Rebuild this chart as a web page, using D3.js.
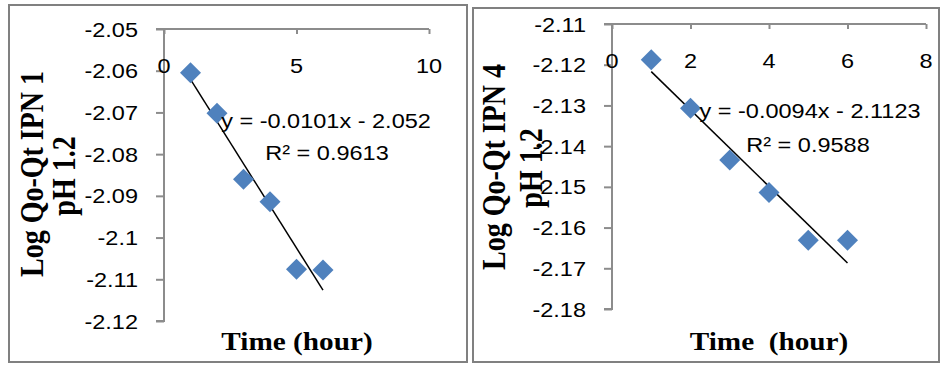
<!DOCTYPE html>
<html>
<head>
<meta charset="utf-8">
<script src="https://cdn.jsdelivr.net/npm/d3@7"></script>
<style>
  html, body { margin: 0; padding: 0; background: #fff; }
  svg { display: block; }
  .pre { white-space: pre; }
</style>
</head>
<body>
<svg id="chart" width="941" height="365"></svg>
<script>
// ---------- data ----------
const timeHours = [1, 2, 3, 4, 5, 6];

const ipn1Values = [-2.0605, -2.0702, -2.0860, -2.0914, -2.1076, -2.1078];
const ipn1Slope = -0.0101;
const ipn1Intercept = -2.052;
const ipn1Equation = "y = -0.0101x - 2.052";
const ipn1R2 = "R² = 0.9613";
const ipn1XTicks = [0, 5, 10];
const ipn1YTicks = [-2.05, -2.06, -2.07, -2.08, -2.09, -2.1, -2.11, -2.12];
const ipn1YTickLabels = ["-2.05", "-2.06", "-2.07", "-2.08", "-2.09", "-2.1", "-2.11", "-2.12"];
const ipn1YTitle = ["Log Qo-Qt IPN 1", "pH 1.2"];
const ipn1XTitle = "Time (hour)";

const ipn4Values = [-2.1188, -2.1307, -2.1434, -2.1514, -2.1631, -2.1631];
const ipn4Slope = -0.0094;
const ipn4Intercept = -2.1123;
const ipn4Equation = "y = -0.0094x - 2.1123";
const ipn4R2 = "R² = 0.9588";
const ipn4XTicks = [0, 2, 4, 6, 8];
const ipn4YTicks = [-2.11, -2.12, -2.13, -2.14, -2.15, -2.16, -2.17, -2.18];
const ipn4YTickLabels = ["-2.11", "-2.12", "-2.13", "-2.14", "-2.15", "-2.16", "-2.17", "-2.18"];
const ipn4YTitle = ["Log Qo-Qt IPN 4", "pH 1.2"];
const ipn4XTitle = "Time  (hour)";

// ---------- drawing ----------
const svg = d3.select("#chart");
const SX = 1.12;               // horizontal stretch of the original picture
const SANS = "'Liberation Sans', Arial, sans-serif";
const SERIF = "'Liberation Serif', 'Times New Roman', serif";
const AXIS = "#8c8c8c";
const MARK = "#4F81BD";

function text(g, x, y, str, opts) {
  const sx = opts.sx || SX;
  const t = g.append("text")
    .attr("transform", `translate(${x},${y}) scale(${sx},1)` + (opts.rotate ? " rotate(-90)" : ""))
    .attr("text-anchor", opts.anchor || "middle")
    .attr("font-family", opts.family || SANS)
    .attr("font-size", opts.size || 21)
    .attr("font-weight", opts.weight || "normal")
    .attr("fill", "#000")
    .text(str);
  if (opts.pre) t.attr("class", "pre").attr("xml:space", "preserve");
  return t;
}

function panel(cfg) {
  const g = svg.append("g");
  // frame
  g.append("rect")
    .attr("x", cfg.frame[0]).attr("y", cfg.frame[1])
    .attr("width", cfg.frame[2]).attr("height", cfg.frame[3])
    .attr("fill", "none").attr("stroke", "#808080").attr("stroke-width", 2);

  const x = d3.scaleLinear().domain(cfg.xDomain).range(cfg.xRange);
  const y = d3.scaleLinear().domain(cfg.yDomain).range(cfg.yRange);

  // y axis (left), ticks outward
  const yAxis = d3.axisLeft(y).tickValues(cfg.yTicks).tickSize(8).tickFormat("");
  const ya = g.append("g").attr("transform", `translate(${x(0)},0)`).call(yAxis);
  ya.select(".domain").attr("stroke", AXIS).attr("stroke-width", 2)
    .attr("d", `M-8,${y.range()[0]}H0V${y.range()[1]}H-8`);
  ya.selectAll(".tick line").attr("stroke", AXIS).attr("stroke-width", 2);

  // x axis (top, at y max), ticks pointing down
  const xAxis = d3.axisBottom(x).tickValues(cfg.xTicks).tickSize(5).tickFormat("");
  const xa = g.append("g").attr("transform", `translate(0,${y(cfg.yDomain[0])})`).call(xAxis);
  xa.select(".domain").attr("stroke", AXIS).attr("stroke-width", 2)
    .attr("d", `M${x.range()[0]},0H${x.range()[1]}`);
  xa.selectAll(".tick line").attr("stroke", AXIS).attr("stroke-width", 2);

  // y tick labels
  cfg.yTicks.forEach((v, i) => {
    text(g, x(0) - 26, y(v) + 7.5, cfg.yTickLabels[i], { anchor: "end" });
  });
  // x tick labels
  cfg.xTicks.forEach(v => {
    text(g, x(v), y(cfg.yDomain[0]) + 44, String(v), {});
  });

  // trendline
  const x0 = d3.min(timeHours), x1 = d3.max(timeHours);
  g.append("line")
    .attr("x1", x(x0)).attr("y1", y(cfg.slope * x0 + cfg.intercept))
    .attr("x2", x(x1)).attr("y2", y(cfg.slope * x1 + cfg.intercept))
    .attr("stroke", "#000").attr("stroke-width", 1.5);

  // markers (diamonds)
  g.selectAll("path.pt").data(timeHours).join("path")
    .attr("class", "pt")
    .attr("d", d3.symbol().type(d3.symbolSquare).size(220)())
    .attr("transform", (d, i) => `translate(${x(d)},${y(cfg.values[i])}) rotate(45)`)
    .attr("fill", MARK);

  // equation and R²
  text(g, cfg.eqPos[0], cfg.eqPos[1], cfg.equation, {});
  text(g, cfg.r2Pos[0], cfg.r2Pos[1], cfg.r2, {});

  // axis titles
  text(g, cfg.xTitlePos[0], cfg.xTitlePos[1], cfg.xTitle,
       { family: SERIF, weight: "bold", size: 25, sx: 1.17, pre: true });
  text(g, cfg.yTitle1Pos[0], cfg.yTitle1Pos[1], cfg.yTitle[0],
       { family: SERIF, weight: "bold", size: 28, sx: 1.17, rotate: true });
  text(g, cfg.yTitle2Pos[0], cfg.yTitle2Pos[1], cfg.yTitle[1],
       { family: SERIF, weight: "bold", size: 28, sx: 1.17, rotate: true });
}

panel({
  frame: [9, 5, 458, 357],
  xDomain: [0, 10], xRange: [164, 429],
  yDomain: [-2.05, -2.12], yRange: [29, 321],
  xTicks: ipn1XTicks, yTicks: ipn1YTicks, yTickLabels: ipn1YTickLabels,
  values: ipn1Values, slope: ipn1Slope, intercept: ipn1Intercept,
  equation: ipn1Equation, r2: ipn1R2,
  eqPos: [326, 128], r2Pos: [327, 160],
  xTitle: ipn1XTitle, xTitlePos: [297, 350],
  yTitle: ipn1YTitle, yTitle1Pos: [43, 174], yTitle2Pos: [75, 176]
});

panel({
  frame: [473, 8, 466, 354],
  xDomain: [0, 8], xRange: [612, 926],
  yDomain: [-2.11, -2.18], yRange: [24, 309],
  xTicks: ipn4XTicks, yTicks: ipn4YTicks, yTickLabels: ipn4YTickLabels,
  values: ipn4Values, slope: ipn4Slope, intercept: ipn4Intercept,
  equation: ipn4Equation, r2: ipn4R2,
  eqPos: [810, 118], r2Pos: [808, 152],
  xTitle: ipn4XTitle, xTitlePos: [769, 350],
  yTitle: ipn4YTitle, yTitle1Pos: [505, 167], yTitle2Pos: [542, 168]
});
</script>
</body>
</html>
